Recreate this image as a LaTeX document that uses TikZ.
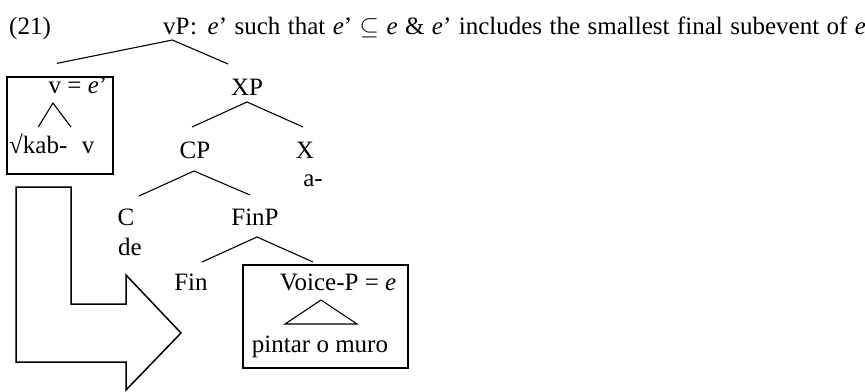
\documentclass[tikz,border=0pt]{standalone}
\usepackage{fontspec}
\setmainfont{Liberation Serif}
\usepackage{tikz}
\usetikzlibrary{calc}

\begin{document}
\begin{tikzpicture}[x=1pt, y=-1pt, font=\fontsize{25}{28}\selectfont,
    lbl/.style={inner sep=0pt, anchor=base},
    branch/.style={line width=1.1pt},
    framebox/.style={draw, line width=1.3pt, inner sep=0pt}]
\useasboundingbox (0,0) rectangle (865,391);

% heading
\node[lbl, anchor=base west] (num) at (9,34) {(21)};
\node[lbl, anchor=base west] (vp) at (163,34) {vP};
\node[lbl, anchor=base west] (vpdef) at (vp.base east) {\makebox[676pt][s]{: \textit{e}’ such that \textit{e}’ $\subseteq$ \textit{e} \& \textit{e}’ includes the smallest final subevent of \textit{e}}};

% boxes
\node[framebox, minimum width=106pt, minimum height=97pt] (vbox) at (60,125.5) {};
\node[framebox, minimum width=165pt, minimum height=103pt] (voicebox) at (325.5,316.5) {};

% labels
\node[lbl] (v) at (78,93) {v = \textit{e}’};
\node[lbl, anchor=base west] (root) at (9,153) {√kab-};
\node[lbl] (vhead) at (88,153) {v};
\node[lbl] (xp) at (247,95) {XP};
\node[lbl] (cp) at (195,158) {CP};
\node[lbl] (x) at (305,158) {X};
\node[lbl] (xaff) at (313,186) {a-};
\node[lbl] (c) at (126,225) {C};
\node[lbl] (de) at (130,255) {de};
\node[lbl] (finp) at (255,225) {FinP};
\node[lbl] (fin) at (191,290) {Fin};
\node[lbl] (voicep) at (338,290) {Voice-P = \textit{e}};
\node[lbl] (muro) at (320,352) {pintar o muro};

% branches
\draw[branch] ($(vbox.north)+(-3,-13)$) -- ($(vp.base)+(-4,6)$) -- ($(xp.base)+(-19,-31)$);
\draw[branch] ($(cp.base)+(-3,-31)$) -- ($(xp.base)+(0,7)$) -- ($(x.base)+(-2,-31)$);
\draw[branch] ($(c.base)+(13,-29)$) -- ($(cp.base)+(-1,13)$) -- ($(finp.base)+(-5,-30)$);
\draw[branch] ($(fin.base)+(11,-28)$) -- ($(finp.base)+(2,12)$) -- ($(voicep.base)+(-25,-28)$);
\draw[branch] ($(root.base)+(0,-26)$) -- ($(v.base)+(-25,10)$) -- ($(vhead.base)+(-17,-26)$);
\draw[branch] ($(voicep.base)+(-17,10)$) -- ($(muro.base)+(37,-28)$) -- ($(muro.base)+(-35,-28)$) -- cycle;

% big arrow
\draw[line width=1.5pt] (16,187) -- (71,187) -- (71,304) -- (126,304) -- (126,275) -- (181,333) -- (126,390) -- (126,362) -- (16,362) -- cycle;
\end{tikzpicture}
\end{document}
